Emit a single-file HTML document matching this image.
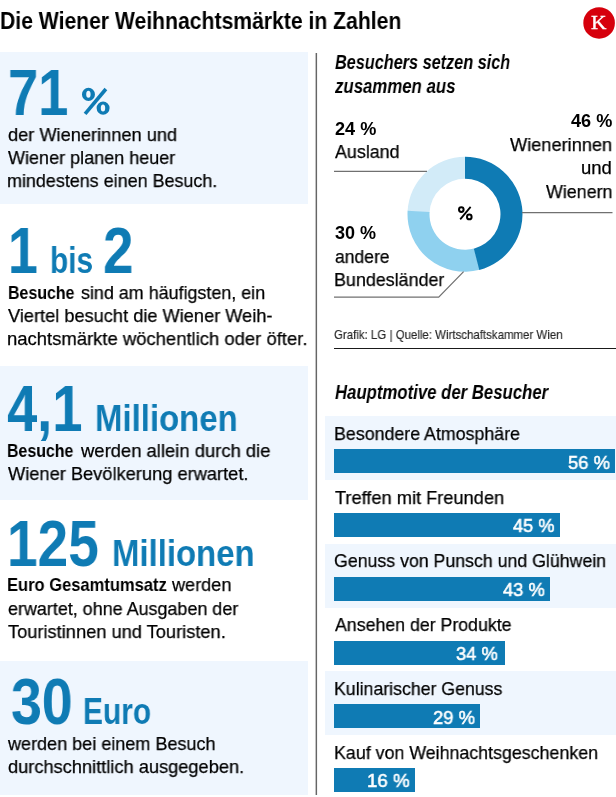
<!DOCTYPE html>
<html><head><meta charset="utf-8"><title>Die Wiener Weihnachtsmärkte in Zahlen</title>
<style>
html,body{margin:0;padding:0;background:#fff;}
body{width:616px;height:797px;position:relative;overflow:hidden;font-family:"Liberation Sans",sans-serif;}
.t{position:absolute;white-space:nowrap;line-height:1;transform-origin:0 0;will-change:transform;}
.r{position:absolute;}
</style></head><body>
<div class="r" style="left:0;top:51.6px;width:307.6px;height:152.4px;background:#eff6fe"></div>
<div class="r" style="left:0;top:366.0px;width:307.6px;height:133.7px;background:#eff6fe"></div>
<div class="r" style="left:0;top:661.0px;width:307.6px;height:133.8px;background:#eff6fe"></div>
<div class="r" style="left:325px;top:416.20px;width:291px;height:64.20px;background:#eff6fe"></div>
<div class="r" style="left:325px;top:543.70px;width:291px;height:64.10px;background:#eff6fe"></div>
<div class="r" style="left:325px;top:670.80px;width:291px;height:64.10px;background:#eff6fe"></div>
<div class="r" style="left:334.0px;top:449.40px;width:281.30px;height:24.0px;background:#0f7bb4"></div>
<div class="r" style="left:334.0px;top:513.40px;width:226.49px;height:24.0px;background:#0f7bb4"></div>
<div class="r" style="left:334.0px;top:577.00px;width:216.42px;height:24.0px;background:#0f7bb4"></div>
<div class="r" style="left:334.0px;top:640.80px;width:171.12px;height:24.0px;background:#0f7bb4"></div>
<div class="r" style="left:334.0px;top:704.30px;width:145.96px;height:24.0px;background:#0f7bb4"></div>
<div class="r" style="left:334.0px;top:768.40px;width:80.53px;height:24.0px;background:#0f7bb4"></div>
<div class="r" style="left:315px;top:53px;width:3px;height:741.5px;background:linear-gradient(to right,#c2c2c2 0,#c2c2c2 1px,#666 1px,#666 2px,#f3f3f3 2px,#f3f3f3 3px)"></div>
<div class="r" style="left:334px;top:347.8px;width:282px;height:1.2px;background:#1a1a1a"></div>
<svg class="r" style="left:0;top:0" width="616" height="797" viewBox="0 0 616 797">
<path d="M407.58 211.19 A57.50 57.50 0 0 1 465.50 156.80 L465.31 178.80 A35.50 35.50 0 0 0 429.55 212.38 Z" fill="#d2ebf8"/>
<path d="M479.79 269.87 A57.50 57.50 0 0 1 407.61 210.69 L429.57 212.07 A35.50 35.50 0 0 0 474.13 248.61 Z" fill="#8fd1ef"/>
<path d="M465.00 156.80 A57.50 57.50 0 0 1 479.30 269.99 L473.83 248.68 A35.50 35.50 0 0 0 465.00 178.80 Z" fill="#0f7bb4"/>
<path d="M334 171.4 H427" stroke="#707070" stroke-width="1.2" fill="none"/>
<path d="M522 212.6 H612.5" stroke="#707070" stroke-width="1.2" fill="none"/>
<path d="M334 297.1 H438.7 L463.6 271.6" stroke="#707070" stroke-width="1.2" fill="none"/>
<ellipse cx="461.3" cy="209.6" rx="2.3" ry="2.45" stroke="#000" stroke-width="2.0" fill="none"/><ellipse cx="469.3" cy="216.9" rx="2.3" ry="2.45" stroke="#000" stroke-width="2.0" fill="none"/><path d="M460.2 219.4 L470.6 206.9" stroke="#000" stroke-width="1.8"/>
<circle cx="599.1" cy="22.95" r="15.8" fill="#d6000c"/>
<path fill-rule="evenodd" fill="#0f7bb4" d="M81.96 94.38 A6.50 6.57 0 1 0 94.96 94.38 A6.50 6.57 0 1 0 81.96 94.38 Z M86.20 94.20 A2.20 3.50 0 1 0 90.60 94.20 A2.20 3.50 0 1 0 86.20 94.20 Z M96.60 108.10 A6.50 6.60 0 1 0 109.60 108.10 A6.50 6.60 0 1 0 96.60 108.10 Z M100.80 108.00 A2.20 3.50 0 1 0 105.20 108.00 A2.20 3.50 0 1 0 100.80 108.00 Z"/>
<path d="M85.1 113.9 L105.9 89.0" stroke="#0f7bb4" stroke-width="3.6"/>
</svg>
<div class="t" style="left:591.3px;top:13px;font-family:'Liberation Serif',serif;font-size:19.4px;color:#fff;transform:scaleX(1.1);-webkit-text-stroke:0.35px #fff">K</div>
<div class="t" style="left:0.39px;top:10.00px;font-weight:700;font-size:23.2px;color:#000;transform:scaleX(0.9119)">Die Wiener Weihnachtsmärkte in Zahlen</div>
<div class="t" style="left:7.90px;top:60.00px;font-weight:700;font-size:65.4px;color:#0f7bb4;transform:scaleX(0.8324)">71</div>
<div class="t" style="left:7.80px;top:126.00px;font-weight:400;font-size:18.5px;color:#000;-webkit-text-stroke:0.25px #000;transform:scaleX(0.9842)">der Wienerinnen und</div>
<div class="t" style="left:8.00px;top:149.00px;font-weight:400;font-size:18.5px;color:#000;-webkit-text-stroke:0.25px #000;transform:scaleX(0.9738)">Wiener planen heuer</div>
<div class="t" style="left:7.03px;top:171.80px;font-weight:400;font-size:18.5px;color:#000;-webkit-text-stroke:0.25px #000;transform:scaleX(0.9693)">mindestens einen Besuch.</div>
<div class="t" style="left:8.12px;top:218.00px;font-weight:700;font-size:65.4px;color:#0f7bb4;transform:scaleX(0.8194)">1</div>
<div class="t" style="left:50.22px;top:241.80px;font-weight:700;font-size:37.8px;color:#0f7bb4;transform:scaleX(0.7902)">bis</div>
<div class="t" style="left:103.33px;top:218.00px;font-weight:700;font-size:65.4px;color:#0f7bb4;transform:scaleX(0.8375)">2</div>
<div class="t" style="left:7.74px;top:284.10px;font-weight:700;font-size:18.5px;color:#000;transform:scaleX(0.8618)">Besuche</div>
<div class="t" style="left:80.50px;top:284.10px;font-weight:400;font-size:18.5px;color:#000;-webkit-text-stroke:0.25px #000;transform:scaleX(0.9679)">sind am häufigsten, ein</div>
<div class="t" style="left:8.00px;top:307.30px;font-weight:400;font-size:18.5px;color:#000;-webkit-text-stroke:0.25px #000;transform:scaleX(0.9843)">Viertel besucht die Wiener Weih-</div>
<div class="t" style="left:7.40px;top:330.30px;font-weight:400;font-size:18.5px;color:#000;-webkit-text-stroke:0.25px #000;transform:scaleX(0.9973)">nachtsmärkte wöchentlich oder öfter.</div>
<div class="t" style="left:7.27px;top:376.00px;font-weight:700;font-size:65.4px;color:#0f7bb4;transform:scaleX(0.8307)">4,1</div>
<div class="t" style="left:95.26px;top:399.50px;font-weight:700;font-size:37.8px;color:#0f7bb4;transform:scaleX(0.8713)">Millionen</div>
<div class="t" style="left:7.34px;top:442.00px;font-weight:700;font-size:18.5px;color:#000;transform:scaleX(0.8605)">Besuche</div>
<div class="t" style="left:80.80px;top:442.00px;font-weight:400;font-size:18.5px;color:#000;-webkit-text-stroke:0.25px #000;transform:scaleX(0.9958)">werden allein durch die</div>
<div class="t" style="left:8.00px;top:465.00px;font-weight:400;font-size:18.5px;color:#000;-webkit-text-stroke:0.25px #000;transform:scaleX(0.9868)">Wiener Bevölkerung erwartet.</div>
<div class="t" style="left:7.23px;top:511.00px;font-weight:700;font-size:65.4px;color:#0f7bb4;transform:scaleX(0.8423)">125</div>
<div class="t" style="left:112.26px;top:535.00px;font-weight:700;font-size:37.8px;color:#0f7bb4;transform:scaleX(0.8706)">Millionen</div>
<div class="t" style="left:7.21px;top:575.90px;font-weight:700;font-size:18.5px;color:#000;transform:scaleX(0.8927)">Euro Gesamtumsatz</div>
<div class="t" style="left:172.10px;top:575.90px;font-weight:400;font-size:18.5px;color:#000;-webkit-text-stroke:0.25px #000;transform:scaleX(0.9783)">werden</div>
<div class="t" style="left:8.00px;top:599.50px;font-weight:400;font-size:18.5px;color:#000;-webkit-text-stroke:0.25px #000;transform:scaleX(0.9689)">erwartet, ohne Ausgaben der</div>
<div class="t" style="left:8.00px;top:622.50px;font-weight:400;font-size:18.5px;color:#000;-webkit-text-stroke:0.25px #000;transform:scaleX(0.9864)">Touristinnen und Touristen.</div>
<div class="t" style="left:10.55px;top:669.00px;font-weight:700;font-size:65.4px;color:#0f7bb4;transform:scaleX(0.8493)">30</div>
<div class="t" style="left:82.82px;top:693.40px;font-weight:700;font-size:37.8px;color:#0f7bb4;transform:scaleX(0.7916)">Euro</div>
<div class="t" style="left:8.00px;top:735.20px;font-weight:400;font-size:18.5px;color:#000;-webkit-text-stroke:0.25px #000;transform:scaleX(0.9750)">werden bei einem Besuch</div>
<div class="t" style="left:8.00px;top:758.20px;font-weight:400;font-size:18.5px;color:#000;-webkit-text-stroke:0.25px #000;transform:scaleX(0.9854)">durchschnittlich ausgegeben.</div>
<div class="t" style="left:334.60px;top:52.50px;font-weight:700;font-style:italic;font-size:19.5px;color:#000;transform:scaleX(0.8333)">Besuchers setzen sich</div>
<div class="t" style="left:334.60px;top:76.60px;font-weight:700;font-style:italic;font-size:19.5px;color:#000;transform:scaleX(0.8619)">zusammen aus</div>
<div class="t" style="left:334.60px;top:120.30px;font-weight:700;font-size:18px;color:#000;transform:scaleX(1.0073)">24 %</div>
<div class="t" style="left:334.60px;top:143.40px;font-weight:400;font-size:18.5px;color:#000;-webkit-text-stroke:0.25px #000;transform:scaleX(0.9652)">Ausland</div>
<div class="t" style="left:570.60px;top:112.30px;font-weight:700;font-size:18px;color:#000;transform:scaleX(1.0073)">46 %</div>
<div class="t" style="left:510.00px;top:136.20px;font-weight:400;font-size:18.5px;color:#000;-webkit-text-stroke:0.25px #000;transform:scaleX(0.9835)">Wienerinnen</div>
<div class="t" style="left:581.30px;top:159.10px;font-weight:400;font-size:18.5px;color:#000;-webkit-text-stroke:0.25px #000;transform:scaleX(1.0000)">und</div>
<div class="t" style="left:545.70px;top:182.50px;font-weight:400;font-size:18.5px;color:#000;-webkit-text-stroke:0.25px #000;transform:scaleX(0.9647)">Wienern</div>
<div class="t" style="left:334.80px;top:223.90px;font-weight:700;font-size:18px;color:#000;transform:scaleX(1.0000)">30 %</div>
<div class="t" style="left:334.80px;top:247.80px;font-weight:400;font-size:18.5px;color:#000;-webkit-text-stroke:0.25px #000;transform:scaleX(0.9474)">andere</div>
<div class="t" style="left:334.03px;top:271.10px;font-weight:400;font-size:18.5px;color:#000;-webkit-text-stroke:0.25px #000;transform:scaleX(0.9664)">Bundesländer</div>
<div class="t" style="left:333.60px;top:329.10px;font-weight:400;font-size:12.6px;color:#262626;-webkit-text-stroke:0.15px #262626;transform:scaleX(0.9108)">Grafik: LG | Quelle: Wirtschaftskammer Wien</div>
<div class="t" style="left:334.80px;top:383.20px;font-weight:700;font-style:italic;font-size:19.5px;color:#000;transform:scaleX(0.8590)">Hauptmotive der Besucher</div>
<div class="t" style="left:334.14px;top:425.40px;font-weight:400;font-size:18.5px;color:#000;-webkit-text-stroke:0.25px #000;transform:scaleX(0.9620)">Besondere Atmosphäre</div>
<div class="t" style="left:567.73px;top:452.60px;font-weight:400;font-size:19px;color:#fff;-webkit-text-stroke:0.55px #fff;transform:scaleX(0.9667)">56 %</div>
<div class="t" style="left:335.10px;top:488.90px;font-weight:400;font-size:18.5px;color:#000;-webkit-text-stroke:0.25px #000;transform:scaleX(0.9848)">Treffen mit Freunden</div>
<div class="t" style="left:512.80px;top:515.90px;font-weight:400;font-size:19px;color:#fff;-webkit-text-stroke:0.55px #fff;transform:scaleX(0.9558)">45 %</div>
<div class="t" style="left:334.14px;top:552.40px;font-weight:400;font-size:18.5px;color:#000;-webkit-text-stroke:0.25px #000;transform:scaleX(0.9585)">Genuss von Punsch und Glühwein</div>
<div class="t" style="left:502.90px;top:580.00px;font-weight:400;font-size:19px;color:#fff;-webkit-text-stroke:0.55px #fff;transform:scaleX(0.9628)">43 %</div>
<div class="t" style="left:335.10px;top:616.20px;font-weight:400;font-size:18.5px;color:#000;-webkit-text-stroke:0.25px #000;transform:scaleX(0.9587)">Ansehen der Produkte</div>
<div class="t" style="left:455.54px;top:644.00px;font-weight:400;font-size:19px;color:#fff;-webkit-text-stroke:0.55px #fff;transform:scaleX(0.9619)">34 %</div>
<div class="t" style="left:334.14px;top:680.00px;font-weight:400;font-size:18.5px;color:#000;-webkit-text-stroke:0.25px #000;transform:scaleX(0.9577)">Kulinarischer Genuss</div>
<div class="t" style="left:433.43px;top:707.80px;font-weight:400;font-size:19px;color:#fff;-webkit-text-stroke:0.55px #fff;transform:scaleX(0.9667)">29 %</div>
<div class="t" style="left:334.14px;top:743.90px;font-weight:400;font-size:18.5px;color:#000;-webkit-text-stroke:0.25px #000;transform:scaleX(0.9626)">Kauf von Weihnachtsgeschenken</div>
<div class="t" style="left:366.63px;top:770.90px;font-weight:400;font-size:19px;color:#fff;-webkit-text-stroke:0.55px #fff;transform:scaleX(0.9829)">16 %</div>
</body></html>
